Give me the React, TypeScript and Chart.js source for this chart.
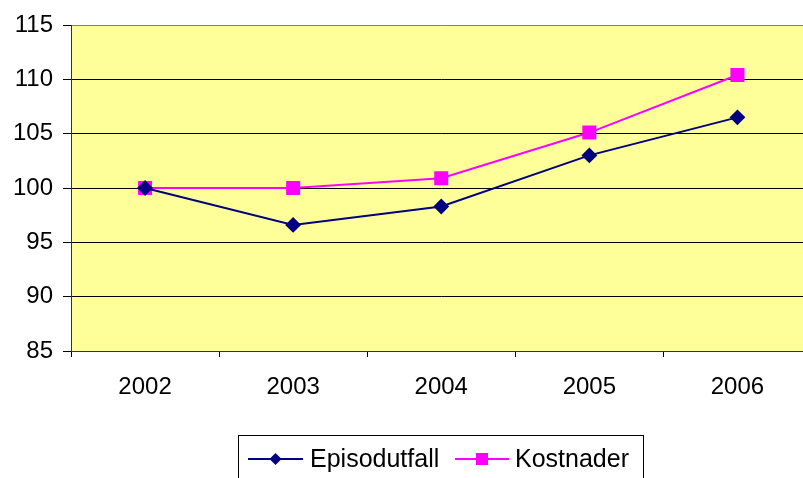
import React, { useEffect, useRef } from "react";
import { Chart, registerables } from "chart.js";

Chart.register(...registerables);

const categories = ["2002", "2003", "2004", "2005", "2006"];
const episodutfall = [100, 96.6, 98.3, 103.0, 106.5];
const kostnader = [100, 100, 100.9, 105.1, 110.4];
const yMin = 85;
const yMax = 115;
const yStep = 5;

const FONT = "'Liberation Sans', Arial, sans-serif";

const bgPlugin = {
  id: "plotBg",
  beforeDraw(chart: any) {
    const { ctx, chartArea } = chart;
    ctx.save();
    ctx.fillStyle = "#FFFF99";
    ctx.fillRect(chartArea.left, chartArea.top, chartArea.right - chartArea.left, chartArea.bottom - chartArea.top);
    ctx.restore();
  },
};

const legendPlugin = {
  id: "boxLegend",
  afterDraw(chart: any) {
    const { ctx } = chart;
    ctx.save();
    ctx.strokeStyle = "#000";
    ctx.lineWidth = 1;
    ctx.strokeRect(238.5, 435.5, 405, 60);
    const y = 459;
    const items = [
      { label: chart.data.datasets[0].label, color: "#000080", x0: 248, x1: 303, style: "diamond", tx: 310 },
      { label: chart.data.datasets[1].label, color: "#FF00FF", x0: 455, x1: 509, style: "square", tx: 515 },
    ];
    items.forEach((it) => {
      ctx.strokeStyle = it.color;
      ctx.lineWidth = 2;
      ctx.beginPath();
      ctx.moveTo(it.x0, y);
      ctx.lineTo(it.x1, y);
      ctx.stroke();
      const cx = (it.x0 + it.x1) / 2;
      ctx.fillStyle = it.color;
      ctx.beginPath();
      if (it.style === "diamond") {
        ctx.moveTo(cx, y - 6);
        ctx.lineTo(cx + 6, y);
        ctx.lineTo(cx, y + 6);
        ctx.lineTo(cx - 6, y);
        ctx.closePath();
      } else {
        ctx.rect(cx - 6, y - 6, 12, 12);
      }
      ctx.fill();
      ctx.fillStyle = "#000";
      ctx.font = `25px ${FONT}`;
      ctx.textBaseline = "middle";
      ctx.textAlign = "left";
      ctx.fillText(it.label, it.tx, y + 1);
    });
    ctx.restore();
  },
};

export default function App() {
  const ref = useRef<HTMLCanvasElement | null>(null);

  useEffect(() => {
    if (!ref.current) return;
    const chart = new Chart(ref.current, {
      type: "line",
      data: {
        labels: categories,
        datasets: [
          {
            label: "Episodutfall",
            data: episodutfall,
            borderColor: "#000080",
            backgroundColor: "#000080",
            borderWidth: 2,
            pointStyle: "rectRot",
            pointRadius: 6.5,
            pointHoverRadius: 6.5,
            tension: 0,
          },
          {
            label: "Kostnader",
            data: kostnader,
            borderColor: "#FF00FF",
            backgroundColor: "#FF00FF",
            borderWidth: 2,
            pointStyle: "rect",
            pointRadius: 8.5,
            pointHoverRadius: 8.5,
            tension: 0,
          },
        ],
      },
      options: {
        responsive: false,
        animation: false,
        layout: { padding: { left: 0, right: 1, top: 25, bottom: 60 } },
        plugins: {
          legend: { display: false },
          tooltip: { enabled: false },
        },
        scales: {
          x: {
            offset: true,
            grid: {
              offset: true,
              drawOnChartArea: false,
              drawTicks: true,
              tickLength: 6,
              color: "#000",
            },
            border: { display: true, color: "#333", width: 1 },
            ticks: {
              color: "#000",
              font: { family: FONT, size: 24 },
              padding: 16,
              maxRotation: 0,
            },
            afterFit(scale: any) {
              scale.height = 67;
            },
          },
          y: {
            min: yMin,
            max: yMax,
            grid: {
              color: (c: any) => (c.tick && c.tick.value === yMax ? "#808080" : "#000"),
              tickColor: "#000",
              tickLength: 8,
              lineWidth: 1,
            },
            border: { display: true, color: "#333", width: 1 },
            ticks: {
              stepSize: yStep,
              color: "#000",
              font: { family: FONT, size: 24 },
              padding: 10,
            },
            afterFit(scale: any) {
              scale.width = 71;
            },
          },
        },
      },
      plugins: [bgPlugin, legendPlugin],
    });
    return () => chart.destroy();
  }, []);

  return (
    <div style={{ position: "fixed", left: 0, top: 0, width: 803, height: 478, overflow: "hidden", background: "#fff" }}>
      <canvas ref={ref} width={822} height={478} style={{ display: "block" }} />
    </div>
  );
}
